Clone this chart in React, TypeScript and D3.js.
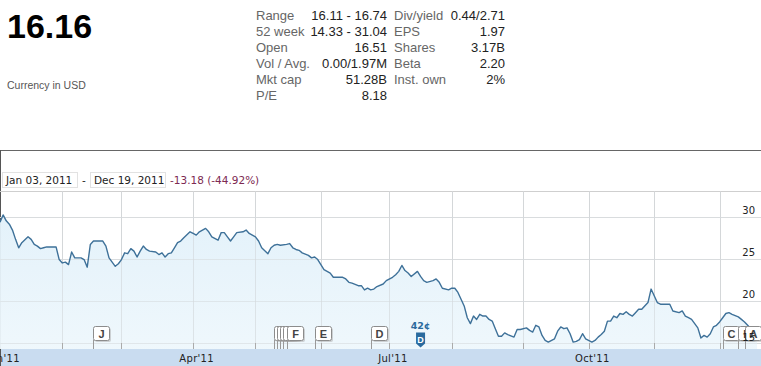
import React, { useEffect, useRef } from 'react';
import * as d3 from 'd3';

// header / key stats
const lastPrice = '16.16';
const currencyNote = 'Currency in USD';
const statLabelsLeft = ['Range', '52 week', 'Open', 'Vol / Avg.', 'Mkt cap', 'P/E'];
const statValuesLeft = ['16.11 - 16.74', '14.33 - 31.04', '16.51', '0.00/1.97M', '51.28B', '8.18'];
const statLabelsRight = ['Div/yield', 'EPS', 'Shares', 'Beta', 'Inst. own'];
const statValuesRight = ['0.44/2.71', '1.97', '3.17B', '2.20', '2%'];

const rangeStart = 'Jan 03, 2011';
const rangeEnd = 'Dec 19, 2011';
const rangeChange = '-13.18 (-44.92%)';

// trading session number (0 = Jan 03 2011) and close
const session = [
  0, 1, 2, 3, 4, 5, 6, 7, 9, 10, 11, 12, 13, 14, 15, 17, 18, 19, 20, 21, 22, 23, 24, 26, 27, 28, 29, 30,
  32, 33, 34, 35, 36, 37, 38, 39, 40, 41, 42, 43, 44, 45, 46, 47, 48, 50, 51, 52, 53, 54, 55, 56, 57, 58,
  59, 61, 62, 63, 64, 65, 66, 67, 68, 70, 71, 72, 73, 74, 75, 76, 78, 79, 80, 81, 82, 83, 84, 86, 87, 88,
  89, 90, 92, 93, 94, 95, 96, 97, 99, 100, 101, 102, 103, 104, 106, 107, 108, 110, 111, 112, 113, 115,
  116, 117, 118, 119, 120, 121, 123, 124, 126, 127, 128, 129, 130, 131, 132, 134, 135, 136, 137, 139,
  140, 141, 142, 144, 145, 146, 147, 148, 149, 150, 151, 152, 153, 154, 155, 156, 157, 158, 159, 160,
  161, 162, 163, 165, 166, 167, 169, 170, 171, 172, 173, 174, 175, 176, 178, 179, 180, 181, 182, 183,
  184, 185, 186, 187, 188, 190, 191, 192, 193, 194, 195, 196, 197, 198, 199, 200, 201, 202, 203, 204,
  205, 206, 208, 209, 210, 211, 212, 213, 214, 215, 216, 218, 219, 220, 221, 222, 223, 224, 225, 226,
  227, 228, 229, 230, 231, 232, 233, 234, 235, 237, 238, 239, 240, 241, 242, 243,
];
const close = [
  29.34, 30.2, 29.5, 29.1, 28.4, 27.3, 26.3, 26.9, 27.6, 27.3, 26.7, 26.5, 26.2, 26.3, 26.4, 26.4, 26.4,
  24.9, 24.5, 24.6, 24.3, 25.8, 25.1, 25.1, 24.9, 24.0, 26.7, 27.1, 27.1, 27.1, 26.5, 25.1, 24.6, 24.1,
  24.4, 24.9, 25.7, 25.6, 26.2, 25.9, 25.2, 25.9, 26.5, 26.1, 25.9, 25.8, 25.5, 25.7, 25.2, 25.6, 25.7,
  26.3, 26.9, 27.1, 27.5, 28.2, 28.0, 27.8, 28.2, 28.4, 28.6, 28.2, 27.6, 27.2, 28.1, 28.1, 27.6, 27.1,
  27.6, 28.1, 28.2, 28.4, 28.0, 27.8, 27.6, 27.1, 26.3, 25.6, 26.3, 26.6, 26.7, 26.6, 26.7, 26.8, 26.3,
  26.1, 26.0, 25.7, 25.4, 25.1, 25.2, 24.9, 24.3, 23.7, 23.3, 22.8, 22.8, 22.8, 22.6, 22.2, 22.1, 21.8,
  21.8, 21.3, 21.5, 21.3, 21.4, 21.7, 22.0, 22.4, 22.8, 23.1, 23.5, 24.2, 23.6, 23.3, 22.9, 23.5, 22.9,
  22.4, 22.2, 22.4, 22.6, 22.2, 21.5, 21.3, 21.5, 21.5, 21.0, 20.2, 19.4, 18.0, 17.3, 18.2, 17.8, 18.4,
  18.2, 18.2, 17.8, 17.6, 16.7, 15.8, 15.8, 16.2, 16.0, 15.7, 16.6, 16.6, 16.8, 16.5, 16.3, 17.1, 16.9,
  15.9, 15.3, 15.1, 15.5, 16.4, 16.9, 16.7, 16.8, 16.1, 15.1, 15.2, 15.4, 16.1, 15.5, 15.1, 15.3, 15.7,
  16.0, 16.4, 17.6, 17.6, 18.2, 18.0, 18.5, 18.4, 18.7, 18.4, 18.2, 18.6, 19.0, 19.0, 19.8, 21.4, 20.6,
  19.8, 19.6, 19.6, 19.6, 19.6, 18.8, 18.6, 18.8, 18.2, 18.0, 17.8, 17.3, 16.8, 15.6, 15.9, 15.7, 16.1,
  16.9, 17.1, 17.5, 18.0, 18.5, 18.6, 18.4, 18.1, 17.8, 17.5, 17.1, 16.7, 16.4, 16.16,
];

// first session of each month
const monthStarts = [0, 20, 39, 62, 82, 103, 125, 145, 168, 189, 210, 231];
const monthLabels = ["Jan'11", '', '', "Apr'11", '', '', "Jul'11", '', '', "Oct'11", '', ''];
const priceTicks = [15, 20, 25, 30];

// news flags and dividend
const flagLetters = ['J', 'K', 'I', 'H', 'G', 'F', 'E', 'D', 'C', 'L', 'A'];
const flagSessions = [30, 88, 89, 90, 91, 92, 101, 119, 232, 237, 239];
const dividendLabel = '42¢';
const dividendSession = 135;

const W = 761;
const H = 366;

function App() {
  const svgRef = useRef<SVGSVGElement>(null);

  useEffect(() => {
    const svg = d3.select(svgRef.current);
    svg.selectAll('*').remove();

    const arial = 'Arial, "Liberation Sans", sans-serif';
    const verdana = '"DejaVu Sans", Verdana, sans-serif';

    // ---- header
    svg.append('text').attr('x', 7).attr('y', 38).text(lastPrice)
      .style('font-family', arial).style('font-weight', 'bold').style('font-size', '34px').attr('fill', '#000');
    svg.append('text').attr('x', 7).attr('y', 89).text(currencyNote)
      .style('font-family', arial).style('font-size', '10.5px').attr('fill', '#555');

    const stat = (labels: string[], values: string[], lx: number, vx: number) => {
      labels.forEach((lab, i) => {
        const y = 19.5 + i * 16;
        svg.append('text').attr('x', lx).attr('y', y).text(lab)
          .style('font-family', arial).style('font-size', '13px').attr('fill', '#666');
        svg.append('text').attr('x', vx).attr('y', y).attr('text-anchor', 'end').text(values[i])
          .style('font-family', arial).style('font-size', '13px').attr('fill', '#222');
      });
    };
    stat(statLabelsLeft, statValuesLeft, 256, 387);
    stat(statLabelsRight, statValuesRight, 394, 505);

    // ---- chart frame
    const top = 191.5;
    const bandTop = 349;

    svg.append('line').attr('x1', 0).attr('x2', W).attr('y1', 150.5).attr('y2', 150.5).attr('stroke', '#666');
    svg.append('line').attr('x1', 0.5).attr('x2', 0.5).attr('y1', 150).attr('y2', H).attr('stroke', '#555');

    const box = (x: number, w: number, label: string) => {
      svg.append('rect').attr('x', x + 0.5).attr('y', 172.5).attr('width', w).attr('height', 15)
        .attr('fill', '#fff').attr('stroke', '#e2e2e2');
      svg.append('text').attr('x', x + 4).attr('y', 183.5).text(label)
        .style('font-family', verdana).style('font-size', '10.5px').attr('fill', '#222');
    };
    box(2, 75, rangeStart);
    svg.append('text').attr('x', 82).attr('y', 183.5).text('-')
      .style('font-family', verdana).style('font-size', '10.5px').attr('fill', '#222');
    box(90, 75, rangeEnd);
    svg.append('text').attr('x', 170).attr('y', 183.5).text(rangeChange)
      .style('font-family', verdana).style('font-size', '10.5px').attr('fill', '#7d2a52');

    const x = d3.scaleLinear().domain([0, 243]).range([0, 757]);
    const y = d3.scaleLinear().domain([15, 30]).range([343, 216.6]);

    // grid
    svg.append('line').attr('x1', 0).attr('x2', W).attr('y1', top).attr('y2', top).attr('stroke', '#cfcfcf');
    svg.append('g').selectAll('line').data(priceTicks).enter().append('line')
      .attr('x1', 0).attr('x2', W)
      .attr('y1', d => Math.round(y(d)) + 0.5).attr('y2', d => Math.round(y(d)) + 0.5)
      .attr('stroke', '#dcdcdc');
    svg.append('g').selectAll('line').data(monthStarts.slice(1)).enter().append('line')
      .attr('x1', d => Math.round(x(d)) + 0.5).attr('x2', d => Math.round(x(d)) + 0.5)
      .attr('y1', top).attr('y2', bandTop)
      .attr('stroke', '#d6d6d6');

    // area + line
    const pts = session.map((s, i) => [s, close[i]] as [number, number]);
    const grad = svg.append('defs').append('linearGradient').attr('id', 'fillGrad')
      .attr('x1', 0).attr('x2', 0).attr('y1', 0).attr('y2', 1);
    grad.append('stop').attr('offset', '0%').attr('stop-color', '#e2f1fa');
    grad.append('stop').attr('offset', '100%').attr('stop-color', '#eef7fc');

    const area = d3.area<[number, number]>()
      .x(d => x(d[0])).y0(bandTop).y1(d => y(d[1]));
    svg.append('path').datum(pts).attr('d', area).attr('fill', 'url(#fillGrad)').attr('opacity', 0.95);

    // redraw grid lightly over fill
    svg.append('g').selectAll('line').data(priceTicks).enter().append('line')
      .attr('x1', 0).attr('x2', W)
      .attr('y1', d => Math.round(y(d)) + 0.5).attr('y2', d => Math.round(y(d)) + 0.5)
      .attr('stroke', '#d8dde0').attr('opacity', 0.6);
    svg.append('g').selectAll('line').data(monthStarts.slice(1)).enter().append('line')
      .attr('x1', d => Math.round(x(d)) + 0.5).attr('x2', d => Math.round(x(d)) + 0.5)
      .attr('y1', top).attr('y2', bandTop)
      .attr('stroke', '#d3d8dc').attr('opacity', 0.6);

    const line = d3.line<[number, number]>().x(d => x(d[0])).y(d => y(d[1]));
    svg.append('path').datum(pts).attr('d', line).attr('fill', 'none')
      .attr('stroke', '#3e7199').attr('stroke-width', 1.4).attr('stroke-linejoin', 'round');

    // flags
    flagLetters.forEach((letter, i) => {
      const fx = Math.round(x(flagSessions[i])) + 0.5;
      const g = svg.append('g');
      g.append('line').attr('x1', fx).attr('x2', fx).attr('y1', 340).attr('y2', bandTop).attr('stroke', '#999');
      g.append('rect').attr('x', fx + 1.5).attr('y', 328).attr('width', 16).attr('height', 14).attr('rx', 2)
        .attr('fill', '#aaa').attr('opacity', 0.5);
      g.append('rect').attr('x', fx).attr('y', 326.5).attr('width', 16).attr('height', 14).attr('rx', 2)
        .attr('fill', '#fff').attr('stroke', '#8c8c8c');
      g.append('text').attr('x', fx + 8).attr('y', 337.5).attr('text-anchor', 'middle').text(letter)
        .style('font-family', arial).style('font-weight', 'bold').style('font-size', '11px').attr('fill', '#444');
    });

    // right price labels, drawn over the flags
    svg.append('g').selectAll('text').data(priceTicks).enter().append('text')
      .attr('x', 755).attr('y', d => y(d) - 2.5).attr('text-anchor', 'end')
      .text(d => String(d))
      .style('font-family', verdana).style('font-size', '10px').attr('fill', '#222');

    // dividend marker
    const dx = x(dividendSession);
    svg.append('text').attr('x', dx).attr('y', 329).attr('text-anchor', 'middle').text(dividendLabel)
      .style('font-family', verdana).style('font-weight', 'bold').style('font-size', '9.5px').attr('fill', '#2a6a9e');
    svg.append('path')
      .attr('d', `M${dx - 4.5},332.5 h9 v11 l-4.5,4 l-4.5,-4 Z`)
      .attr('fill', '#2a6a9e');
    svg.append('text').attr('x', dx).attr('y', 343).attr('text-anchor', 'middle').text('D')
      .style('font-family', arial).style('font-weight', 'bold').style('font-size', '9px').attr('fill', '#fff');

    // bottom axis band
    svg.append('rect').attr('x', 1).attr('y', bandTop).attr('width', W).attr('height', H - bandTop).attr('fill', '#c9dcf0');
    svg.append('g').selectAll('line').data(monthStarts.slice(1)).enter().append('line')
      .attr('x1', d => Math.round(x(d)) + 0.5).attr('x2', d => Math.round(x(d)) + 0.5)
      .attr('y1', 343).attr('y2', bandTop).attr('stroke', '#aaa');
    svg.append('g').selectAll('text').data(monthStarts).enter().append('text')
      .attr('x', d => x(d) + 3.5).attr('y', 362).attr('text-anchor', 'middle')
      .text((d, i) => monthLabels[i])
      .style('font-family', verdana).style('font-size', '10px').style('letter-spacing', '0.3px').attr('fill', '#222');
  }, []);

  return (
    <svg ref={svgRef} width={W} height={H}
      style={{ position: 'absolute', left: 0, top: 0, background: '#fff' }} />
  );
}

export default App;
